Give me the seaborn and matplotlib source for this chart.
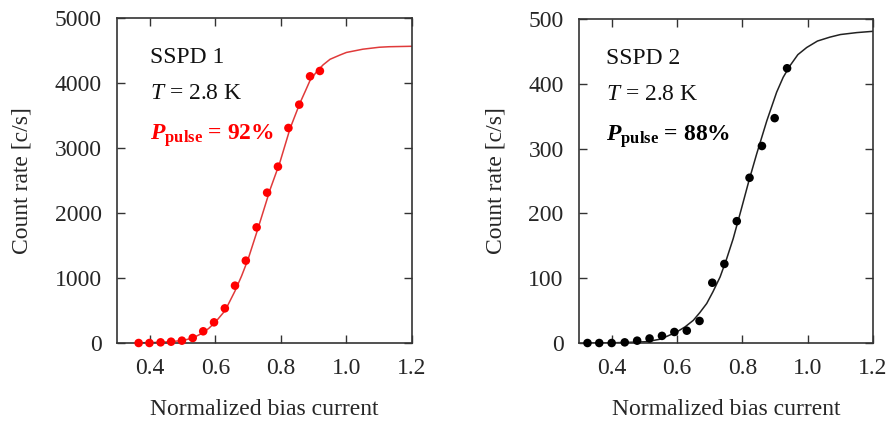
import numpy as np
import pandas as pd
import matplotlib
matplotlib.use("Agg")
import matplotlib.pyplot as plt
import seaborn as sns

# ---- data ----
x1 = [0.366, 0.399, 0.433, 0.465, 0.498, 0.531, 0.563, 0.596, 0.629, 0.660,
      0.693, 0.726, 0.758, 0.791, 0.823, 0.856, 0.889, 0.919]
y1 = [0, 0, 10, 20, 36, 77, 180, 318, 533, 882,
      1267, 1779, 2313, 2713, 3308, 3667, 4103, 4185]
fit1_x = [0.366, 0.40, 0.433, 0.466, 0.50, 0.53, 0.56, 0.58, 0.60, 0.63, 0.66,
          0.68, 0.70, 0.73, 0.767, 0.797, 0.828, 0.858, 0.875, 0.889, 0.91,
          0.929, 0.95, 0.98, 1.0, 1.05, 1.1, 1.13, 1.2]
fit1_y = [3, 6, 12, 22, 38, 75, 150, 225, 320, 500, 800,
          1030, 1290, 1760, 2360, 2780, 3300, 3690, 3880, 4040, 4180,
          4280, 4365, 4430, 4470, 4520, 4550, 4558, 4565]

x2 = [0.326, 0.362, 0.400, 0.440, 0.478, 0.516, 0.554, 0.592, 0.630, 0.669,
      0.708, 0.745, 0.783, 0.822, 0.860, 0.899, 0.937]
y2 = [0, 0, 0, 1, 3.6, 7, 11, 17, 19, 34,
      93, 122, 188, 255, 304, 347, 424]
fit2_x = [0.326, 0.40, 0.45, 0.507, 0.55, 0.599, 0.625, 0.65, 0.67, 0.691,
          0.71, 0.732, 0.752, 0.772, 0.796, 0.82, 0.844, 0.875, 0.905, 0.925,
          0.946, 0.97, 0.997, 1.03, 1.068, 1.1, 1.15, 1.2]
fit2_y = [0, 0.3, 1, 2, 6, 17, 25, 35, 47, 61,
          79, 102, 130, 161, 205, 250, 292, 343, 387, 410,
          428, 445, 456, 466, 472, 476, 479, 481]

xticks = [0.4, 0.6, 0.8, 1.0, 1.2]
xticklabels = ["0.4", "0.6", "0.8", "1.0", "1.2"]
yticks1 = [0, 1000, 2000, 3000, 4000, 5000]
yticks2 = [0, 100, 200, 300, 400, 500]

labels1 = ["SSPD 1", r"$\mathit{T}$ = 2.8 K", r"$\mathbfit{P}_{\mathbf{pulse}}$ = 92%"]
labels2 = ["SSPD 2", r"$\mathit{T}$ = 2.8 K", r"$\mathbfit{P}_{\mathbf{pulse}}$ = 88%"]

sns.set_style("ticks")
plt.rcParams["font.family"] = ["Liberation Serif", "DejaVu Serif"]
plt.rcParams["mathtext.fontset"] = "custom"
plt.rcParams["mathtext.rm"] = "Liberation Serif"
plt.rcParams["mathtext.it"] = "Liberation Serif:italic"
plt.rcParams["mathtext.bf"] = "Liberation Serif:bold"
plt.rcParams["mathtext.bfit"] = "Liberation Serif:italic:bold"

FS = 17
fig = plt.figure(figsize=(8.9, 4.23), dpi=100)
ax1 = fig.add_axes([117/890, 80/423, 295/890, 325/423])
ax2 = fig.add_axes([579/890, 80/423, 294/890, 324/423])

def draw(ax, x, y, fx, fy, color, lcolor, yticks, ymax, labels, tx, tcolor):
    d = pd.DataFrame({"x": x, "y": y})
    f = pd.DataFrame({"x": fx, "y": fy})
    sns.lineplot(data=f, x="x", y="y", ax=ax, color=lcolor, lw=1.1, zorder=2)
    sns.scatterplot(data=d, x="x", y="y", ax=ax, color=color, s=38,
                    edgecolor="none", zorder=3, clip_on=False)
    ax.set_xlim(0.3, 1.2)
    ax.set_ylim(0, ymax)
    ax.set_xticks(xticks)
    ax.set_xticklabels(xticklabels)
    ax.set_yticks(yticks)
    ax.tick_params(direction="in", top=True, right=True, length=6, width=1.0,
                   labelsize=FS, pad=11, color="#333333")
    for s in ax.spines.values():
        s.set_linewidth(1.2)
        s.set_color("#333333")
    ax.set_xlabel("Normalized bias current", fontsize=FS, labelpad=14)
    ax.set_ylabel("Count rate [c/s]", fontsize=FS, labelpad=16)
    ax.text(tx, 0.862, labels[0], transform=ax.transAxes, fontsize=FS, va="baseline", color="#111111")
    ax.text(tx, 0.751, labels[1], transform=ax.transAxes, fontsize=FS, va="baseline", color="#111111")
    ax.text(tx, 0.625, labels[2], transform=ax.transAxes, fontsize=FS, va="baseline",
            color=tcolor, fontweight="bold")

draw(ax1, x1, y1, fit1_x, fit1_y, "#ff0000", "#e03a3a", yticks1, 5000, labels1, 0.112, "#ff0000")
draw(ax2, x2, y2, fit2_x, fit2_y, "#000000", "#222222", yticks2, 500, labels2, 0.092, "#000000")

fig.savefig("out.png", dpi=100)
